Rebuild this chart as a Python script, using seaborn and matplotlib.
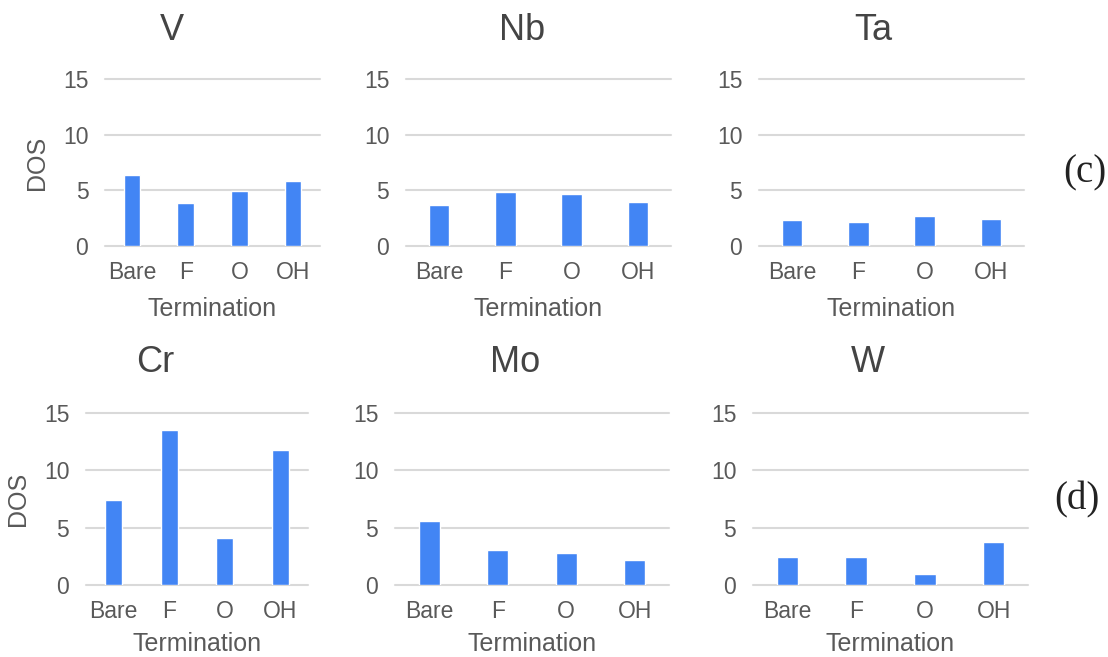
import matplotlib
matplotlib.use("Agg")
import matplotlib.pyplot as plt
import seaborn as sns
import pandas as pd

# --- data ---
terminations = ["Bare", "F", "O", "OH"]
dos_V = [6.35, 3.86, 4.97, 5.87]
dos_Nb = [3.65, 4.85, 4.67, 3.95]
dos_Ta = [2.37, 2.16, 2.67, 2.46]
dos_Cr = [7.38, 13.49, 4.10, 11.77]
dos_Mo = [5.55, 3.05, 2.76, 2.15]
dos_W = [2.47, 2.47, 0.96, 3.78]

panels = [
    ("V", dos_V, [0.0948, 0.6256, 0.194, 0.2542], True, 172),
    ("Nb", dos_Nb, [0.3664, 0.6256, 0.2392, 0.2542], False, 522),
    ("Ta", dos_Ta, [0.685, 0.6256, 0.2392, 0.2542], False, 873),
    ("Cr", dos_Cr, [0.0776, 0.1096, 0.2004, 0.2618], True, 155),
    ("Mo", dos_Mo, [0.3565, 0.1096, 0.2473, 0.2618], False, 515),
    ("W", dos_W, [0.6796, 0.1096, 0.2482, 0.2618], False, 868),
]

sns.set_style("white")
plt.rcParams['font.family'] = ['Liberation Sans', 'DejaVu Sans']

BAR = "#4285F4"
TXT = "#595959"
GRID = "#d9d9d9"

fig = plt.figure(figsize=(11.08, 6.57), dpi=100)

for name, vals, rect, show_ylabel, title_x in panels:
    top_row = rect[1] > 0.5
    ax = fig.add_axes(rect)
    df = pd.DataFrame({"Termination": terminations, "DOS": vals})
    sns.barplot(data=df, x="Termination", y="DOS", color=BAR, saturation=1,
                width=0.31, ax=ax, zorder=3)
    ax.set_xlim(-0.5, 3.5)
    ax.set_ylim(0, 15)
    ax.set_yticks([0, 5, 10, 15])
    ax.yaxis.grid(True, color=GRID, linewidth=1.5, zorder=0)
    for gl in ax.get_ygridlines():
        gl.set_clip_on(False)
    ax.set_axisbelow(True)
    for s in ax.spines.values():
        s.set_visible(False)
    ax.tick_params(axis="both", length=0, labelsize=16.5, colors=TXT)
    ax.tick_params(axis="y", pad=12)
    ax.tick_params(axis="x", pad=11)
    ax.set_xlabel("Termination", fontsize=18, color=TXT,
                  labelpad=9 if top_row else 6)
    if show_ylabel:
        ax.set_ylabel("DOS", fontsize=18, color=TXT, labelpad=10)
    else:
        ax.set_ylabel("")
    ty = 30 if top_row else 362
    fig.text(title_x / 1108, 1 - ty / 657, name, fontsize=26, color="#444444",
             ha="center", va="center")

fig.text(1085 / 1108, 1 - 173 / 657, "(c)", fontsize=28, family="Liberation Serif",
         color="#222222", ha="center", va="center")
fig.text(1077 / 1108, 1 - 500 / 657, "(d)", fontsize=28, family="Liberation Serif",
         color="#222222", ha="center", va="center")

fig.savefig("out.png", dpi=100, facecolor="white")
